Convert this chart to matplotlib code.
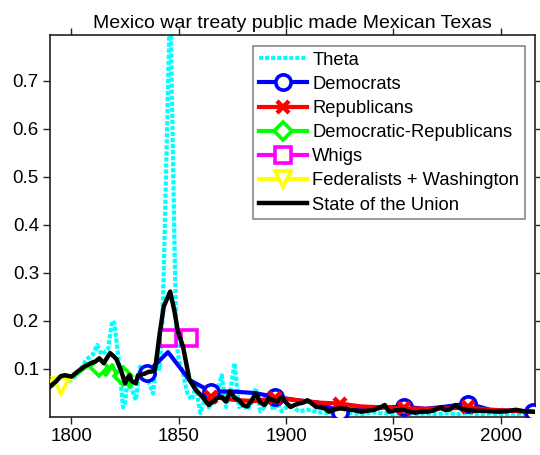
import matplotlib
matplotlib.use("Agg")
import matplotlib.pyplot as plt
from matplotlib.lines import Line2D

plt.rcParams['font.family'] = ['Liberation Sans', 'DejaVu Sans']

title = "Mexico war treaty public made Mexican Texas"

theta_years = [1790, 1795, 1800, 1803, 1807, 1810, 1812, 1814, 1817, 1819, 1820, 1822,
               1824, 1825, 1826, 1828, 1830, 1832, 1835, 1838, 1840, 1841, 1842, 1843,
               1846, 1848, 1849, 1850, 1852, 1854, 1856, 1858, 1860, 1862, 1864, 1866,
               1868, 1870, 1872, 1874, 1876, 1878, 1880, 1882, 1884, 1886, 1888, 1890,
               1892, 1894, 1896, 1898, 1900, 1903, 1906, 1910, 1915, 1920, 1925, 1930,
               1935, 1940, 1945, 1950, 1955, 1960, 1965, 1970, 1975, 1980, 1985, 1990,
               1995, 2000, 2005, 2010, 2015]
theta_vals = [0.065, 0.07, 0.077, 0.09, 0.12, 0.13, 0.15, 0.13, 0.14, 0.2, 0.195, 0.12,
              0.02, 0.03, 0.077, 0.06, 0.035, 0.105, 0.084, 0.049, 0.133, 0.1, 0.154, 0.3,
              0.88, 0.36, 0.15, 0.12, 0.09, 0.05, 0.035, 0.063, 0.008, 0.035, 0.02, 0.03,
              0.05, 0.087, 0.021, 0.053, 0.112, 0.021, 0.025, 0.015, 0.03, 0.06, 0.012, 0.021,
              0.042, 0.015, 0.028, 0.012, 0.02, 0.021, 0.012, 0.015, 0.01, 0.008, 0.01, 0.008,
              0.006, 0.01, 0.008, 0.006, 0.008, 0.006, 0.007, 0.006, 0.008, 0.006, 0.008, 0.006,
              0.007, 0.006, 0.007, 0.006, 0.006]

dem_years = [1835, 1845, 1855, 1865, 1875, 1885, 1895, 1905, 1915, 1925, 1935, 1945,
             1955, 1965, 1975, 1985, 1995, 2005, 2015]
dem_vals = [0.091, 0.135, 0.077, 0.053, 0.053, 0.05, 0.042, 0.035, 0.03, 0.011, 0.018, 0.02,
            0.021, 0.017, 0.022, 0.028, 0.015, 0.013, 0.011]

rep_years = [1865, 1875, 1885, 1895, 1905, 1915, 1925, 1935, 1945, 1955, 1965, 1975,
             1985, 1995, 2005, 2015]
rep_vals = [0.042, 0.036, 0.033, 0.04, 0.035, 0.03, 0.028, 0.022, 0.02, 0.018, 0.017, 0.018,
            0.02, 0.015, 0.013, 0.011]

demrep_years = [1801, 1804, 1807, 1810, 1813, 1816, 1819, 1822, 1824, 1825, 1827, 1828]
demrep_vals = [0.085, 0.095, 0.105, 0.115, 0.105, 0.088, 0.108, 0.08, 0.085, 0.098, 0.063, 0.07]

whig_years = [1845, 1855]
whig_vals = [0.164, 0.164]

fed_years = [1790, 1792, 1795, 1798, 1800]
fed_vals = [0.075, 0.075, 0.065, 0.075, 0.08]

sotu_years = [1790, 1793, 1795, 1797, 1800, 1803, 1806, 1809, 1811, 1813, 1815, 1818,
              1820, 1821, 1823, 1825, 1826, 1827, 1828, 1830, 1831, 1834, 1836, 1838,
              1839, 1841, 1843, 1846, 1848, 1849.5, 1852, 1855, 1858, 1861, 1864, 1866,
              1868, 1870, 1872, 1874, 1876, 1878, 1880, 1882, 1884, 1886, 1888, 1890,
              1892, 1894, 1896, 1898, 1900, 1902, 1904, 1906, 1908, 1910, 1912, 1914,
              1916, 1918, 1920, 1922, 1925, 1929, 1932, 1935, 1938, 1941, 1944, 1946,
              1948, 1951, 1954, 1957, 1960, 1963, 1966, 1969, 1972, 1974, 1976, 1979,
              1981, 1984, 1988, 1991, 1995, 1999, 2003, 2007, 2011, 2015]
sotu_vals = [0.063, 0.075, 0.085, 0.087, 0.084, 0.095, 0.105, 0.112, 0.115, 0.122, 0.112, 0.133,
             0.125, 0.12, 0.098, 0.07, 0.08, 0.087, 0.075, 0.07, 0.087, 0.09, 0.094, 0.095,
             0.1, 0.17, 0.23, 0.261, 0.22, 0.18, 0.146, 0.077, 0.056, 0.042, 0.025, 0.032,
             0.04, 0.042, 0.032, 0.053, 0.04, 0.035, 0.025, 0.022, 0.035, 0.049, 0.03, 0.025,
             0.039, 0.035, 0.032, 0.042, 0.03, 0.021, 0.025, 0.028, 0.03, 0.035, 0.028, 0.021,
             0.02, 0.018, 0.011, 0.015, 0.018, 0.016, 0.014, 0.011, 0.013, 0.015, 0.02, 0.025,
             0.011, 0.014, 0.015, 0.012, 0.009, 0.011, 0.011, 0.014, 0.02, 0.015, 0.015, 0.025,
             0.018, 0.015, 0.013, 0.013, 0.012, 0.011, 0.012, 0.015, 0.012, 0.011]

xticks = [1800, 1850, 1900, 1950, 2000]
yticks = [0.1, 0.2, 0.3, 0.4, 0.5, 0.6, 0.7]

fig = plt.figure(figsize=(5.4, 4.55), dpi=100)
ax = fig.add_axes([50/540, 38/455, 485/540, 382/455])

face = '#fffff0'
lw = 3.0
ms = 11
mew = 2.6

ax.plot(theta_years, theta_vals, color='#00ffff', lw=3.0, dashes=(1.0, 0.45),
        label='Theta', zorder=2)
ax.plot(dem_years, dem_vals, color='#0000ff', lw=lw, marker='o', ms=ms, mew=mew,
        mfc=face, mec='#0000ff', markevery=[0, 3, 6, 9, 12, 15, 18],
        label='Democrats', zorder=3)
ax.plot(rep_years, rep_vals, color='#ff0000', lw=lw, marker='x', ms=8, mew=3.2,
        mec='#ff0000', markevery=[0, 3, 6, 9, 12], label='Republicans', zorder=3)
ax.plot(demrep_years, demrep_vals, color='#00ff00', lw=lw, marker='D', ms=9.5, mew=mew,
        mfc=face, mec='#00ff00', markevery=[4, 8], label='Democratic-Republicans', zorder=3)
ax.plot(whig_years, whig_vals, color='#ff00ff', lw=0, marker='s', ms=ms, mew=mew,
        mfc=face, mec='#ff00ff', label='Whigs', zorder=3)
ax.plot(fed_years, fed_vals, color='#ffff00', lw=lw, marker='v', ms=ms, mew=mew,
        mfc=face, mec='#ffff00', markevery=[2], label='Federalists + Washington', zorder=3)
ax.plot(sotu_years, sotu_vals, color='black', lw=3.2, label='State of the Union', zorder=4)

ax.set_xlim(1790, 2016)
ax.set_ylim(0, 0.795)
ax.set_xticks(xticks)
ax.set_xticklabels([str(x) for x in xticks])
ax.set_yticks(yticks)
ax.set_yticklabels([f"{y:.1f}" for y in yticks])
ax.tick_params(direction='out', length=5, width=1, labelsize=13.5, top=True, right=True,
               colors='#222222', labelcolor='black', pad=3)
for s in ax.spines.values():
    s.set_linewidth(1.2)
    s.set_color('#222222')

ax.set_title(title, fontsize=14, pad=5)

handles, labels = ax.get_legend_handles_labels()
handles[4] = Line2D([], [], color='#ff00ff', lw=lw, marker='s', ms=ms, mew=mew,
                    mfc=face, mec='#ff00ff')
leg = ax.legend(handles, labels, loc='upper right', bbox_to_anchor=(0.99, 0.985),
                fontsize=13.2, frameon=True, fancybox=False, framealpha=1,
                edgecolor='#888888', borderpad=0.3, labelspacing=0.39,
                handlelength=2.6, handletextpad=0.3, borderaxespad=0.3)
leg.get_frame().set_linewidth(1.2)

fig.savefig('out.png', dpi=100)
